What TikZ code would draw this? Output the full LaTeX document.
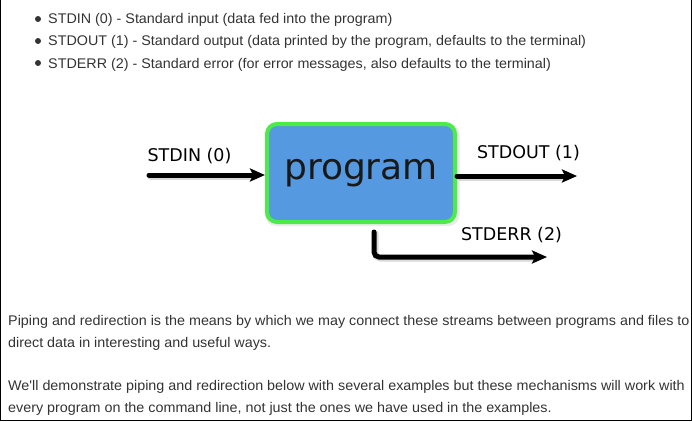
\documentclass[tikz,border=0pt]{standalone}
\usepackage{fontspec}
\setmainfont{Liberation Sans}
\newfontfamily\bodyfont[FakeStretch=1.024]{Liberation Sans}
\newfontfamily\dvsans{DejaVu Sans}
\usetikzlibrary{arrows.meta}
\definecolor{txt}{HTML}{333333}
\definecolor{boxblue}{HTML}{5599E0}
\definecolor{boxgreen}{HTML}{4EEA48}
\tikzset{
  body/.style={anchor=base west, inner sep=0pt, text=txt, font=\bodyfont\fontsize{14}{16}\selectfont},
  bul/.style={circle, fill=txt, inner sep=0pt, minimum size=6},
  lbl/.style={inner sep=0pt, text=black, font=\dvsans\fontsize{17.5}{20}\selectfont},
  prog/.style={draw=boxgreen, line width=4, fill=boxblue, rounded corners=10,
    minimum width=188, minimum height=98, inner sep=0pt,
    font=\dvsans\fontsize{36}{40}\selectfont, text=black!90},
  arr/.style={line width=5, line cap=round, -{Stealth[length=15, width=13, inset=3]}},
  shad/.style={line width=6, line cap=round, draw=black, opacity=0.15},
}
\begin{document}
\begin{tikzpicture}[x=1pt, y=-1pt]
\useasboundingbox (0,0) rectangle (692,421);
\draw[black, line width=1] (0.5,0) -- (0.5,420.5) -- (691.5,420.5) -- (691.5,0);
% bullets
\node[bul] (b1) at (38,19) {};
\node[bul] (b2) at (38,41) {};
\node[bul] (b3) at (38,63) {};
\node[body] (t1) at (48,23) {STDIN (0) - Standard input (data fed into the program)};
\node[body] (t2) at (48,45.5) {STDOUT (1) - Standard output (data printed by the program, defaults to the terminal)};
\node[body] (t3) at (48,68) {STDERR (2) - Standard error (for error messages, also defaults to the terminal)};
% paragraphs
\node[body] (p1) at (8,325) {Piping and redirection is the means by which we may connect these streams between programs and files to};
\node[body] (p2) at (8,347) {direct data in interesting and useful ways.};
\node[body] (p3) at (8,390) {We'll demonstrate piping and redirection below with several examples but these mechanisms will work with};
\node[body] (p4) at (8,412) {every program on the command line, not just the ones we have used in the examples.};
% diagram
\fill[black, opacity=0.08, rounded corners=11] (265,124) rectangle (459.5,226);
\node[prog] (p) at (361,173) {program};
\coordinate (inS) at (149,175);
\coordinate (outE) at (577,176);
\coordinate (errTop) at (374,232);
\coordinate (errCorner) at (374,257);
\coordinate (errEnd) at (547,257);
\draw[shad] ([shift={(1.5,1.5)}]inS) -- ([shift={(-14,1.5)}]inS -| p.west);
\draw[shad] ([shift={(3,1.5)}]p.east |- outE) -- ([shift={(-13,1.5)}]outE);
\draw[shad, rounded corners=5] ([shift={(1.5,1.5)}]errTop) -- ([shift={(1.5,1.5)}]errCorner) -- ([shift={(-13,1.5)}]errEnd);
\draw[arr] (inS) -- (inS -| p.west);
\draw[arr] (p.east |- outE) -- (outE);
\draw[arr, rounded corners=5] (errTop) -- (errCorner) -- (errEnd);
\node[lbl] (lin) at (189.5,156) {STDIN (0)};
\node[lbl] (lout) at (528.5,153) {STDOUT (1)};
\node[lbl] (lerr) at (511.5,235) {STDERR (2)};
\end{tikzpicture}
\end{document}
